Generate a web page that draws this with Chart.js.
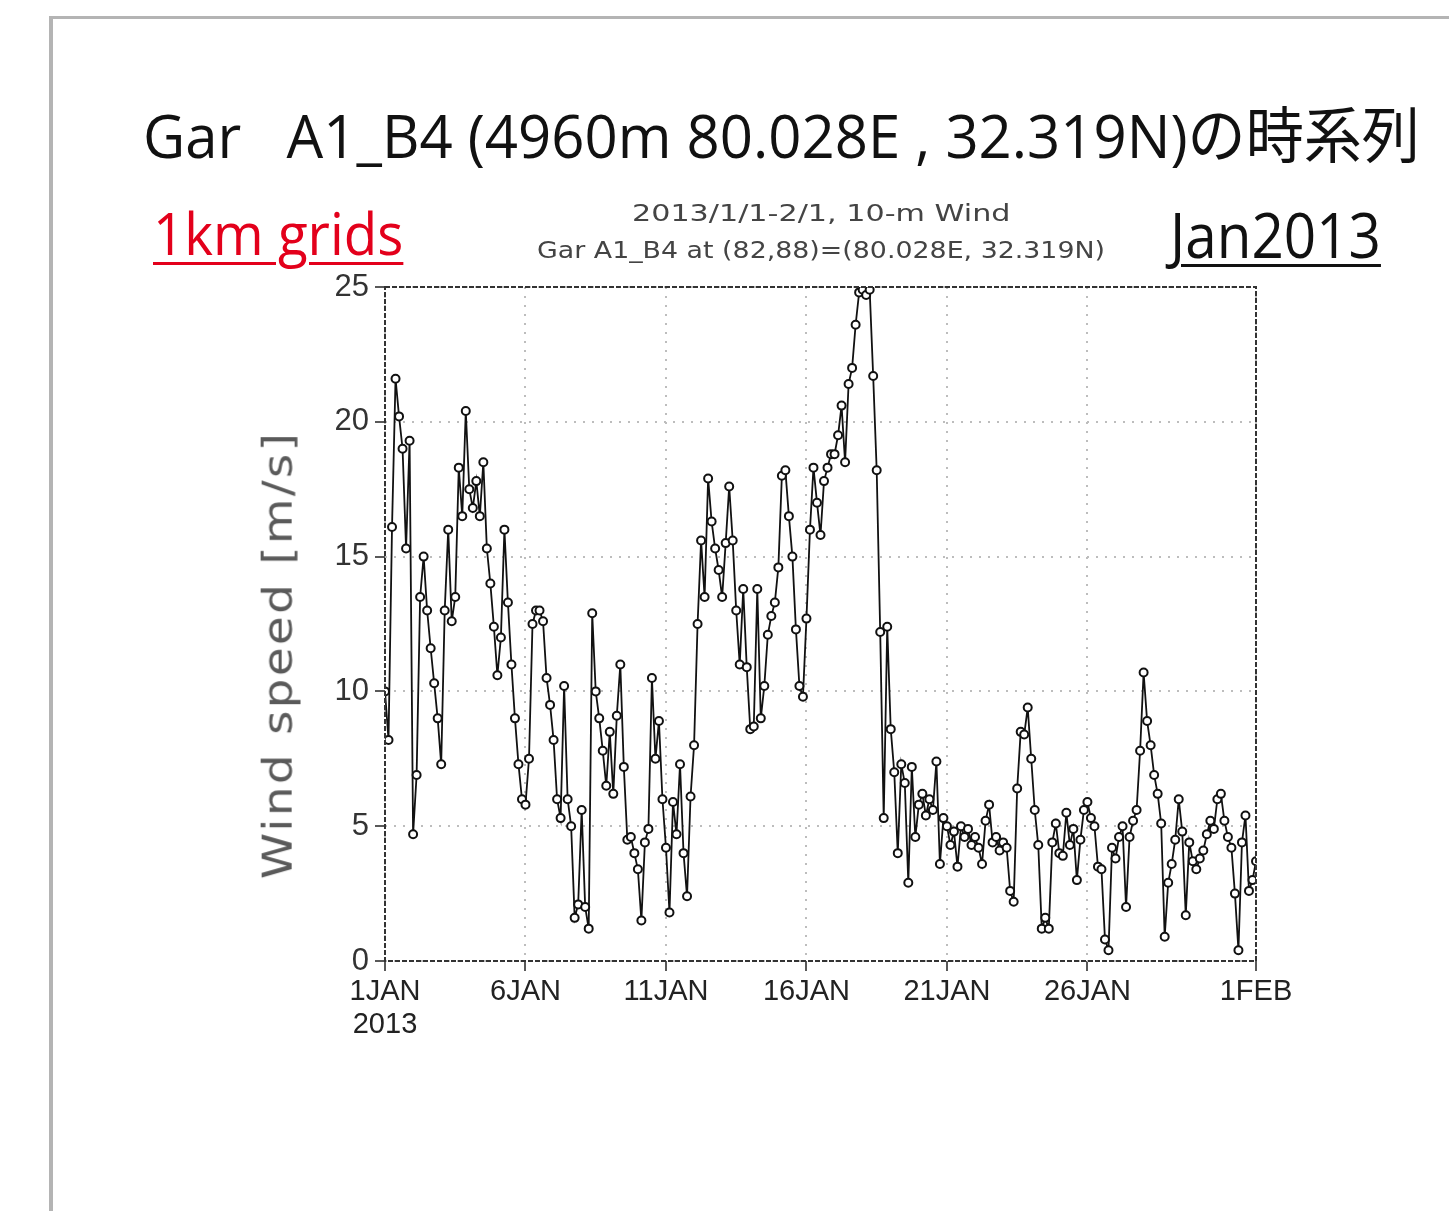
<!DOCTYPE html>
<html>
<head>
<meta charset="utf-8">
<script src="https://cdn.jsdelivr.net/npm/chart.js@4.4.1/dist/chart.umd.min.js"></script>
<style>
  html, body { margin: 0; padding: 0; background: #fff; }
  body { width: 1449px; height: 1211px; position: relative; overflow: hidden; }
  #frame { position: absolute; left: 49px; top: 16px; width: 1420px; height: 1220px;
           border-top: 3px solid #b4b4b4; border-left: 4px solid #b4b4b4; }
  #chartBox { position: absolute; left: 0; top: 0; width: 1449px; height: 1211px; }
  .txt { position: absolute; white-space: pre; line-height: 1; transform-origin: 0 0; }
  #title { left: 143px; top: 87px; font: 61px "Open Sans", "Noto Sans CJK JP", sans-serif; color: #111; }
  #grids { left: 153px; top: 193px; font: 58px "Open Sans", sans-serif; color: #e3001b;
           text-decoration: underline; text-decoration-thickness: 3px; text-underline-offset: 7px; }
  #month { left: 1170px; top: 192px; font: 62px "Open Sans", sans-serif; color: #111;
           text-decoration: underline; text-decoration-thickness: 3px; text-underline-offset: 6px; }
  .sub { font: 23px "DejaVu Sans", sans-serif; color: #444; }
  #ytitle { font: 40px "DejaVu Sans", sans-serif; color: #5a5a5a; letter-spacing: 2px; }
</style>
</head>
<body>
<div id="frame"></div>
<div id="chartBox"><canvas id="myChart" width="1449" height="1211"></canvas></div>
<div class="txt" id="title">Gar&nbsp;&nbsp; A1_B4 (4960m 80.028E , 32.319N)の時系列</div>
<div class="txt" id="grids">1km grids</div>
<div class="txt" id="month">Jan2013</div>
<div class="txt sub" id="sub1">2013/1/1-2/1, 10-m Wind</div>
<div class="txt sub" id="sub2">Gar A1_B4 at (82,88)=(80.028E, 32.319N)</div>
<div class="txt" id="ytitle">Wind speed [m/s]</div>

<script>
// 10-m wind speed [m/s], every 3 hours from 1 Jan 2013 00Z to 1 Feb 2013 00Z
const stepHours = 3;
const windSpeed = [
  10.0, 8.2, 16.1, 21.6, 20.2, 19.0, 15.3, 19.3,   // 1 Jan
  4.7, 6.9, 13.5, 15.0, 13.0, 11.6, 10.3, 9.0,      // 2 Jan
  7.3, 13.0, 16.0, 12.6, 13.5, 18.3, 16.5, 20.4,    // 3 Jan
  17.5, 16.8, 17.8, 16.5, 18.5, 15.3, 14.0, 12.4,   // 4 Jan
  10.6, 12.0, 16.0, 13.3, 11.0, 9.0, 7.3, 6.0,      // 5 Jan
  5.8, 7.5, 12.5, 13.0, 13.0, 12.6, 10.5, 9.5,      // 6 Jan
  8.2, 6.0, 5.3, 10.2, 6.0, 5.0, 1.6, 2.1,          // 7 Jan
  5.6, 2.0, 1.2, 12.9, 10.0, 9.0, 7.8, 6.5,         // 8 Jan
  8.5, 6.2, 9.1, 11.0, 7.2, 4.5, 4.6, 4.0,          // 9 Jan
  3.4, 1.5, 4.4, 4.9, 10.5, 7.5, 8.9, 6.0,          // 10 Jan
  4.2, 1.8, 5.9, 4.7, 7.3, 4.0, 2.4, 6.1,           // 11 Jan
  8.0, 12.5, 15.6, 13.5, 17.9, 16.3, 15.3, 14.5,    // 12 Jan
  13.5, 15.5, 17.6, 15.6, 13.0, 11.0, 13.8, 10.9,   // 13 Jan
  8.6, 8.7, 13.8, 9.0, 10.2, 12.1, 12.8, 13.3,      // 14 Jan
  14.6, 18.0, 18.2, 16.5, 15.0, 12.3, 10.2, 9.8,    // 15 Jan
  12.7, 16.0, 18.3, 17.0, 15.8, 17.8, 18.3, 18.8,   // 16 Jan
  18.8, 19.5, 20.6, 18.5, 21.4, 22.0, 23.6, 24.8,   // 17 Jan
  24.9, 24.7, 24.9, 21.7, 18.2, 12.2, 5.3, 12.4,    // 18 Jan
  8.6, 7.0, 4.0, 7.3, 6.6, 2.9, 7.2, 4.6,           // 19 Jan
  5.8, 6.2, 5.4, 6.0, 5.6, 7.4, 3.6, 5.3,           // 20 Jan
  5.0, 4.3, 4.8, 3.5, 5.0, 4.6, 4.9, 4.3,           // 21 Jan
  4.6, 4.2, 3.6, 5.2, 5.8, 4.4, 4.6, 4.1,           // 22 Jan
  4.4, 4.2, 2.6, 2.2, 6.4, 8.5, 8.4, 9.4,           // 23 Jan
  7.5, 5.6, 4.3, 1.2, 1.6, 1.2, 4.4, 5.1,           // 24 Jan
  4.0, 3.9, 5.5, 4.3, 4.9, 3.0, 4.5, 5.6,           // 25 Jan
  5.9, 5.3, 5.0, 3.5, 3.4, 0.8, 0.4, 4.2,           // 26 Jan
  3.8, 4.6, 5.0, 2.0, 4.6, 5.2, 5.6, 7.8,           // 27 Jan
  10.7, 8.9, 8.0, 6.9, 6.2, 5.1, 0.9, 2.9,          // 28 Jan
  3.6, 4.5, 6.0, 4.8, 1.7, 4.4, 3.7, 3.4,           // 29 Jan
  3.8, 4.1, 4.7, 5.2, 4.9, 6.0, 6.2, 5.2,           // 30 Jan
  4.6, 4.2, 2.5, 0.4, 4.4, 5.4, 2.6, 3.0,           // 31 Jan
  3.7                                               // 1 Feb 00Z
];

// x axis ticks (hours since 1 Jan 00Z)
const tickHours = [0, 120, 240, 360, 480, 600, 744];
const tickLabels = [["1JAN", "2013"], "6JAN", "11JAN", "16JAN", "21JAN", "26JAN", "1FEB"];
const yTicks = [0, 5, 10, 15, 20, 25];

// fit the html texts to the widths in the picture
function fitText(id, width, centerX) {
  const el = document.getElementById(id);
  const k = width / el.offsetWidth;
  if (centerX !== undefined) el.style.left = (centerX - width / 2) + "px";
  el.style.transform = `scaleX(${k})`;
}
fitText("title", 1277);
fitText("grids", 250);
fitText("month", 211);
fitText("sub1", 378, 821);
fitText("sub2", 568, 821);
document.getElementById("sub1").style.top = "200px";
document.getElementById("sub2").style.top = "237px";

// rotated y axis title
const yt = document.getElementById("ytitle");
const ytK = 448 / yt.offsetWidth;
yt.style.transformOrigin = "50% 50%";
yt.style.left = (277 - yt.offsetWidth / 2) + "px";
yt.style.top = (655 - yt.offsetHeight / 2) + "px";
yt.style.transform = `rotate(-90deg) scaleX(${ytK})`;

// dashed box round the plot area
const frameBox = {
  id: "frameBox",
  afterDatasetsDraw(chart) {
    const { ctx, chartArea: a } = chart;
    ctx.save();
    ctx.strokeStyle = "#333";
    ctx.lineWidth = 2;
    ctx.setLineDash([5, 2]);
    ctx.strokeRect(a.left, a.top, a.right - a.left, a.bottom - a.top);
    ctx.restore();
  }
};

const points = windSpeed.map((v, i) => ({ x: i * stepHours, y: v }));

new Chart(document.getElementById("myChart"), {
  type: "line",
  data: {
    datasets: [{
      data: points,
      borderColor: "#111",
      borderWidth: 1.8,
      pointRadius: 4,
      pointBackgroundColor: "#fff",
      pointBorderColor: "#111",
      pointBorderWidth: 2,
      tension: 0
    }]
  },
  options: {
    responsive: false,
    animation: false,
    devicePixelRatio: 1,
    layout: { padding: { left: 0, right: 193, top: 287, bottom: 0 } },
    plugins: { legend: { display: false }, tooltip: { enabled: false } },
    scales: {
      x: {
        type: "linear",
        min: 0,
        max: 744,
        afterFit: s => { s.height = 250; },
        afterBuildTicks: s => { s.ticks = tickHours.map(v => ({ value: v })); },
        ticks: {
          autoSkip: false,
          maxRotation: 0,
          padding: 4,
          color: "#222",
          font: { family: "Liberation Sans", size: 29, lineHeight: 1.15 },
          callback: (v) => tickLabels[tickHours.indexOf(v)]
        },
        grid: { color: "#bdbdbd", lineWidth: 2, tickLength: 10, tickColor: "#222", tickWidth: 1.5, tickBorderDash: [] },
        border: { display: false, dash: [2, 7] }
      },
      y: {
        min: 0,
        max: 25,
        afterFit: s => { s.width = 385; },
        afterBuildTicks: s => { s.ticks = yTicks.map(v => ({ value: v })); },
        ticks: {
          padding: 6,
          color: "#333",
          font: { family: "Liberation Sans", size: 31 }
        },
        grid: { color: "#bdbdbd", lineWidth: 2, tickLength: 10, tickColor: "#222", tickWidth: 1.5, tickBorderDash: [] },
        border: { display: false, dash: [2, 7] }
      }
    }
  },
  plugins: [frameBox]
});
</script>
</body>
</html>
